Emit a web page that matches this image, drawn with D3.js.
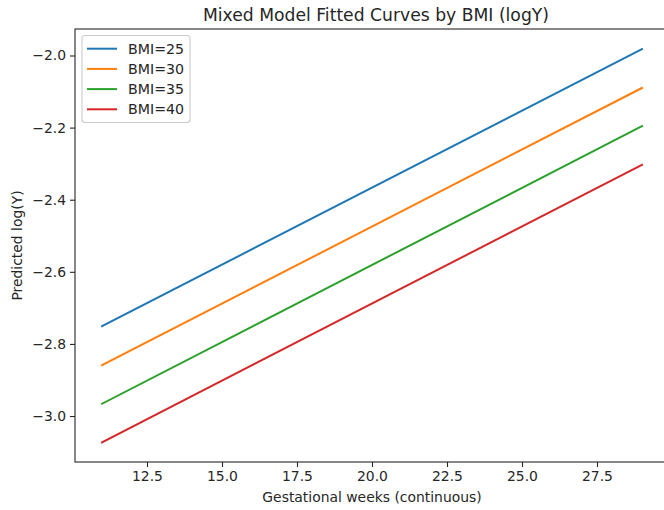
<!DOCTYPE html>
<html><head><meta charset="utf-8">
<script src="https://cdn.jsdelivr.net/npm/d3@7"></script>
<style>
body{margin:0;background:#fff;}
svg{display:block;font-family:"DejaVu Sans",sans-serif;}
</style></head>
<body><svg id="chart" width="664" height="510"></svg>
<script>
const weeks = [11, 29];
const seriesNames = ["BMI=25", "BMI=30", "BMI=35", "BMI=40"];
const bmi25 = [-2.751, -1.982];
const bmi30 = [-2.859, -2.090];
const bmi35 = [-2.966, -2.196];
const bmi40 = [-3.073, -2.303];
const colors = ["#1f77b4", "#ff7f0e", "#2ca02c", "#d62728"];
const xTicks = [12.5, 15.0, 17.5, 20.0, 22.5, 25.0, 27.5];
const yTicks = [-3.0, -2.8, -2.6, -2.4, -2.2, -2.0];
const seriesValues = [bmi25, bmi30, bmi35, bmi40];

const svg = d3.select("#chart");
const L = 75, R = 669, T = 29, B = 462;
const x = d3.scaleLinear().domain([10.1, 29.9]).range([L, R]);
const y = d3.scaleLinear().domain([-3.1275, -1.9265]).range([B, T]);
const ink = "#262626";

svg.append("text").attr("x", (L + R) / 2 + 4).attr("y", 21).attr("text-anchor", "middle")
  .attr("font-size", 17.2).attr("fill", ink).text("Mixed Model Fitted Curves by BMI (logY)");

const line = d3.line().x(d => x(d[0])).y(d => y(d[1]));
seriesValues.forEach((vals, i) => {
  svg.append("path").datum(weeks.map((w, j) => [w, vals[j]]))
    .attr("d", line).attr("fill", "none").attr("stroke", colors[i]).attr("stroke-width", 2)
    .attr("stroke-linecap", "square");
});

const xAxis = svg.append("g").attr("transform", `translate(0,${B})`)
  .call(d3.axisBottom(x).tickValues(xTicks).tickFormat(d3.format(".1f")).tickSize(5).tickPadding(4).tickSizeOuter(0));
const yAxis = svg.append("g").attr("transform", `translate(${L},0)`)
  .call(d3.axisLeft(y).tickValues(yTicks).tickFormat(d => d3.format(".1f")(d).replace("-", "\u2212")).tickSize(5).tickPadding(4).tickSizeOuter(0));
[xAxis, yAxis].forEach(g => {
  g.select(".domain").remove();
  g.selectAll("line").attr("stroke", ink).attr("stroke-width", 1.1);
  g.selectAll("text").attr("font-size", 13.9).attr("fill", ink).attr("font-family", "DejaVu Sans");
});

// spines
svg.append("rect").attr("x", L).attr("y", T).attr("width", R - L).attr("height", B - T)
  .attr("fill", "none").attr("stroke", ink).attr("stroke-width", 1.1);

svg.append("text").attr("x", (L + R) / 2).attr("y", 502).attr("text-anchor", "middle")
  .attr("font-size", 13.9).attr("fill", ink).text("Gestational weeks (continuous)");
svg.append("text").attr("transform", `translate(22,${(T + B) / 2}) rotate(-90)`).attr("text-anchor", "middle")
  .attr("font-size", 13.9).attr("fill", ink).text("Predicted log(Y)");

// legend
const lg = svg.append("g");
lg.append("rect").attr("x", 82).attr("y", 35.5).attr("width", 108).attr("height", 87).attr("rx", 3)
  .attr("fill", "#fff").attr("fill-opacity", 0.8).attr("stroke", "#cccccc").attr("stroke-width", 1.1);
seriesNames.forEach((n, i) => {
  const yy = 48.7 + i * 20.2;
  lg.append("line").attr("x1", 87).attr("x2", 117).attr("y1", yy).attr("y2", yy)
    .attr("stroke", colors[i]).attr("stroke-width", 2);
  lg.append("text").attr("x", 128).attr("y", yy + 5).attr("font-size", 14.2).attr("fill", ink).text(n);
});
</script></body></html>
